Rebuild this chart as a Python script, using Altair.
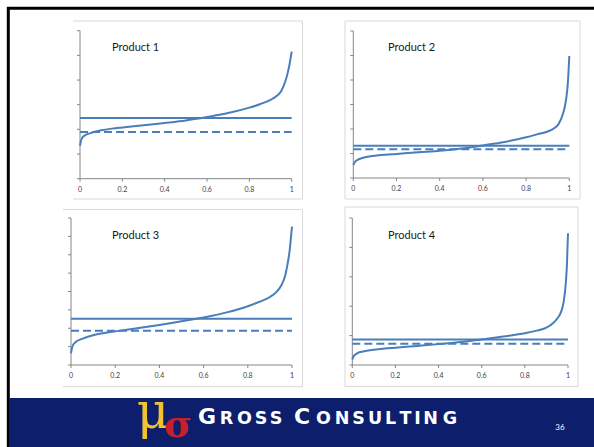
import altair as alt
import pandas as pd

# ---------------- data ----------------
titles = ["Product 1", "Product 2", "Product 3", "Product 4"]
quantile = [0, 0.005, 0.01, 0.02, 0.05, 0.10, 0.15, 0.20, 0.30, 0.40, 0.50,
            0.60, 0.70, 0.80, 0.85, 0.90, 0.93, 0.95, 0.97, 0.98, 0.99, 0.995, 1.0]
curve1 = [1.33, 1.55, 1.65, 1.74, 1.85, 1.96, 2.03, 2.08, 2.17, 2.26, 2.36,
          2.50, 2.66, 2.88, 3.02, 3.20, 3.36, 3.55, 3.95, 4.25, 4.65, 4.90, 5.15]
curve2 = [0.53, 0.62, 0.68, 0.74, 0.84, 0.91, 0.95, 0.98, 1.05, 1.11, 1.20,
          1.33, 1.47, 1.66, 1.78, 1.90, 2.03, 2.20, 2.60, 2.95, 3.55, 4.10, 4.98]
curve3 = [0.64, 0.95, 1.10, 1.24, 1.42, 1.62, 1.74, 1.83, 2.00, 2.18, 2.38,
          2.58, 2.85, 3.20, 3.43, 3.70, 3.98, 4.30, 4.90, 5.50, 6.30, 6.90, 7.53]
curve4 = [0.19, 0.28, 0.33, 0.39, 0.46, 0.52, 0.56, 0.59, 0.65, 0.71, 0.78,
          0.87, 0.97, 1.08, 1.16, 1.27, 1.42, 1.58, 1.85, 2.15, 2.80, 3.40, 4.48]
curves = [curve1, curve2, curve3, curve4]
solid_level = [2.46, 1.32, 2.52, 0.87]
dashed_level = [1.89, 1.17, 1.87, 0.72]
y_max = [6, 6, 8, 5]
x_ticks = [0, 0.2, 0.4, 0.6, 0.8, 1.0]
x_tick_labels = ["0", "0.2", "0.4", "0.6", "0.8", "1"]

footer_caps = ["G", "C"]
footer_small = ["R", "O", "S", "S", "O", "N", "S", "U", "L", "T", "I", "N", "G"]
page_number = "36"

# ---------------- layout (pixels) ----------------
W, H = 594, 447
X0 = [80, 353.3, 71, 352.3]
X1 = [291.7, 569.3, 292, 568]
Y0 = [178.7, 178, 365, 365]
Y1 = [30.7, 31, 218, 218]
FRAME = [(73, 302.5, 21, 199), (345, 580, 21, 199),
         (63, 302.5, 209.5, 386.7), (345, 578, 207, 386.5)]
TITLE_XY = [(112, 48), (388, 48), (112, 236), (388, 236)]
caps_x = [207, 302]
small_x = [226.5, 244.5, 261, 276, 323.5, 342, 358.5, 375, 390.5, 405.5, 417.5, 430.5, 450]

BLUE = "#4a7ebb"
AXIS = "#868686"
FRAME_C = "#d9d9d9"
NAVY = "#0c1e6c"
one = pd.DataFrame({"k": [0]})


def panel(i):
    xs = alt.Scale(domain=[0, 1], range=[X0[i], X1[i]], nice=False, zero=False)
    ys = alt.Scale(domain=[0, y_max[i]], range=[Y0[i], Y1[i]], nice=False, zero=False)
    layers = []
    fx0, fx1, fy0, fy1 = FRAME[i]
    # frame (top, bottom, right, and left for right-hand panels)
    layers.append(alt.Chart(one).mark_rule(color=FRAME_C, strokeWidth=1).encode(
        x=alt.value(fx0), x2=alt.value(fx1), y=alt.value(fy0)))
    layers.append(alt.Chart(one).mark_rule(color=FRAME_C, strokeWidth=1).encode(
        x=alt.value(fx0), x2=alt.value(fx1), y=alt.value(fy1)))
    layers.append(alt.Chart(one).mark_rule(color=FRAME_C, strokeWidth=1).encode(
        x=alt.value(fx1), y=alt.value(fy0), y2=alt.value(fy1)))
    if i in (1, 3):
        layers.append(alt.Chart(one).mark_rule(color=FRAME_C, strokeWidth=1).encode(
            x=alt.value(fx0), y=alt.value(fy0), y2=alt.value(fy1)))

    # axes
    ax = pd.DataFrame({"a": [0], "b": [1], "c": [y_max[i]]})
    layers.append(alt.Chart(ax).mark_rule(color=AXIS, strokeWidth=1).encode(
        x=alt.X("a:Q", scale=xs, axis=None), x2="b:Q",
        y=alt.Y("a:Q", scale=ys, axis=None)))
    layers.append(alt.Chart(ax).mark_rule(color=AXIS, strokeWidth=1).encode(
        x=alt.X("a:Q", scale=xs, axis=None),
        y=alt.Y("a:Q", scale=ys, axis=None), y2="c:Q"))
    xt = pd.DataFrame({"t": x_ticks, "lab": x_tick_labels, "z": [0] * len(x_ticks)})
    layers.append(alt.Chart(xt).mark_rule(color=AXIS, strokeWidth=1).encode(
        x=alt.X("t:Q", scale=xs, axis=None),
        y=alt.Y("z:Q", scale=ys, axis=None), y2=alt.value(Y0[i] + 3)))
    layers.append(alt.Chart(xt).mark_text(fontSize=7, font="Lato", color="#404040",
                                          baseline="middle", dy=11).encode(
        x=alt.X("t:Q", scale=xs, axis=None),
        y=alt.Y("z:Q", scale=ys, axis=None), text="lab:N"))
    yt = pd.DataFrame({"t": list(range(y_max[i] + 1)), "z": [0] * (y_max[i] + 1)})
    layers.append(alt.Chart(yt).mark_rule(color=AXIS, strokeWidth=1).encode(
        x=alt.X("z:Q", scale=xs, axis=None), x2=alt.value(X0[i] - 3),
        y=alt.Y("t:Q", scale=ys, axis=None)))

    # reference lines
    ref = pd.DataFrame({"a": [0], "b": [1], "m": [solid_level[i]], "d": [dashed_level[i]]})
    layers.append(alt.Chart(ref).mark_rule(color=BLUE, strokeWidth=2).encode(
        x=alt.X("a:Q", scale=xs, axis=None), x2="b:Q",
        y=alt.Y("m:Q", scale=ys, axis=None)))
    layers.append(alt.Chart(ref).mark_rule(color=BLUE, strokeWidth=2, strokeDash=[8, 4]).encode(
        x=alt.X("a:Q", scale=xs, axis=None), x2="b:Q",
        y=alt.Y("d:Q", scale=ys, axis=None)))

    # curve
    df = pd.DataFrame({"p": quantile, "v": curves[i]})
    layers.append(alt.Chart(df).mark_line(color=BLUE, strokeWidth=2,
                                          interpolate="monotone").encode(
        x=alt.X("p:Q", scale=xs, axis=None),
        y=alt.Y("v:Q", scale=ys, axis=None)))

    # title
    tx, ty = TITLE_XY[i]
    layers.append(alt.Chart(pd.DataFrame({"s": [titles[i]]})).mark_text(
        fontSize=11, font="Lato", color="#1a1a1a", align="left", baseline="middle").encode(
        x=alt.value(tx), y=alt.value(ty), text="s:N"))
    return alt.layer(*layers)


# slide decorations
deco = [
    alt.Chart(one).mark_rect(color=NAVY).encode(
        x=alt.value(9.5), x2=alt.value(W), y=alt.value(398), y2=alt.value(H)),
    alt.Chart(one).mark_rule(color="black", strokeWidth=3).encode(
        x=alt.value(8.3), y=alt.value(7), y2=alt.value(H)),
    alt.Chart(one).mark_rule(color="black", strokeWidth=3).encode(
        x=alt.value(7), x2=alt.value(W), y=alt.value(8.3)),
]

footer = [
    alt.Chart(pd.DataFrame({"s": ["μ"]})).mark_text(
        font="DejaVu Serif", fontSize=50, color="#f2c230",
        align="center", baseline="alphabetic").encode(
        x=alt.value(153), y=alt.value(428), text="s:N"),
    alt.Chart(pd.DataFrame({"s": ["σ"]})).mark_text(
        font="DejaVu Serif", fontSize=38, fontWeight="bold", color="#c8202a",
        align="center", baseline="alphabetic").encode(
        x=alt.value(178), y=alt.value(437), text="s:N"),
    alt.Chart(pd.DataFrame({"s": footer_caps, "x": caps_x})).mark_text(
        font="DejaVu Sans", fontSize=22, fontWeight="bold", color="white",
        align="center", baseline="alphabetic").encode(
        x=alt.X("x:Q", scale=None), y=alt.value(424), text="s:N"),
    alt.Chart(pd.DataFrame({"s": footer_small, "x": small_x})).mark_text(
        font="DejaVu Sans", fontSize=17.5, fontWeight="bold", color="white",
        align="center", baseline="alphabetic").encode(
        x=alt.X("x:Q", scale=None), y=alt.value(424), text="s:N"),
    alt.Chart(pd.DataFrame({"s": [page_number]})).mark_text(
        font="Lato", fontSize=8, color="white", align="center", baseline="middle").encode(
        x=alt.value(560), y=alt.value(428), text="s:N"),
]

chart = alt.layer(*deco, panel(0), panel(1), panel(2), panel(3), *footer).resolve_scale(
    x="independent", y="independent"
).properties(
    width=W, height=H, autosize=alt.AutoSizeParams(type="none"), padding=0,
    background="white"
).configure_view(stroke=None)

chart.save("out.html", embed_options={"renderer": "svg", "actions": False})
